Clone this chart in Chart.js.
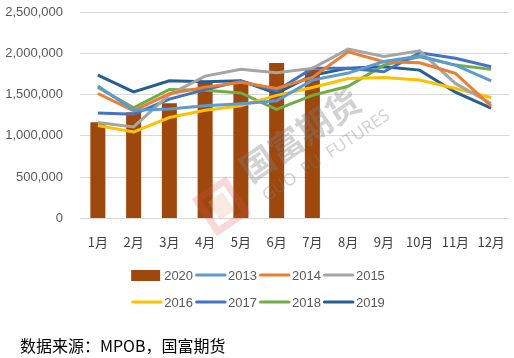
<!DOCTYPE html>
<html>
<head>
<meta charset="utf-8">
<script src="https://cdn.jsdelivr.net/npm/chart.js@4.4.1/dist/chart.umd.min.js"></script>
<style>
  body { margin: 0; background: #fff; }
  #wrap { position: relative; width: 514px; height: 358px; }
  #source {
    position: absolute; left: 20px; top: 333px;
    font-family: "Noto Sans CJK SC", "DejaVu Sans Mono", monospace;
    font-size: 16px; color: #000; white-space: nowrap;
  }
</style>
</head>
<body>
<div id="wrap">
  <canvas id="chart" width="514" height="358"></canvas>
  <div id="source">数据来源：MPOB，国富期货</div>
</div>
<script>
const months = ['1月', '2月', '3月', '4月', '5月', '6月', '7月', '8月', '9月', '10月', '11月', '12月'];
const yTicks = [0, 500000, 1000000, 1500000, 2000000, 2500000];

const output2020 = [1165000, 1286000, 1396000, 1650000, 1640000, 1881000, 1800000];
const output2013 = [1605000, 1311000, 1325000, 1365000, 1390000, 1424000, 1675000, 1760000, 1900000, 1966000, 1857000, 1666000];
const output2014 = [1513000, 1302000, 1510000, 1590000, 1650000, 1574000, 1707000, 2018000, 1897000, 1885000, 1756000, 1359000];
const output2015 = [1161000, 1108000, 1500000, 1723000, 1805000, 1764000, 1817000, 2051000, 1960000, 2030000, 1635000, 1392000];
const output2016 = [1125000, 1048000, 1222000, 1311000, 1365000, 1490000, 1586000, 1695000, 1707000, 1675000, 1574000, 1465000];
const output2017 = [1278000, 1262000, 1445000, 1560000, 1665000, 1545000, 1820000, 1820000, 1776000, 2006000, 1940000, 1836000];
const output2018 = [1586000, 1339000, 1562000, 1553000, 1520000, 1320000, 1490000, 1600000, 1857000, 1958000, 1857000, 1805000];
const output2019 = [1735000, 1533000, 1666000, 1654000, 1666000, 1513000, 1735000, 1820000, 1836000, 1796000, 1529000, 1335000];

const lineSeries = [
    {label: '2013', data: output2013, color: '#5B9BD5'},
    {label: '2014', data: output2014, color: '#ED7D31'},
    {label: '2015', data: output2015, color: '#A5A5A5'},
    {label: '2016', data: output2016, color: '#FFC000'},
    {label: '2017', data: output2017, color: '#4472C4'},
    {label: '2018', data: output2018, color: '#70AD47'},
    {label: '2019', data: output2019, color: '#255E91'}
];
const barColor = '#9E480E';
const textColor = '#595959';

const datasets = [{
    type: 'bar',
    label: '2020',
    data: output2020,
    backgroundColor: barColor,
    barPercentage: 0.42,
    categoryPercentage: 1,
    order: 2
}];
lineSeries.forEach(function (s) {
    datasets.push({
        type: 'line',
        label: s.label,
        data: s.data,
        borderColor: s.color,
        backgroundColor: s.color,
        borderWidth: 3,
        pointRadius: 0,
        tension: 0,
        order: 1
    });
});

// watermark drawn over the marks, faint
const watermark = {
    id: 'watermark',
    afterDatasetsDraw(chart) {
        const ctx = chart.ctx;
        ctx.save();
        ctx.translate(300, 135);
        ctx.rotate(-34 * Math.PI / 180);
        ctx.globalAlpha = 0.35;
        ctx.fillStyle = '#7f7f7f';
        ctx.textAlign = 'center';
        ctx.textBaseline = 'middle';
        ctx.font = 'bold 34px "Noto Sans CJK SC"';
        ctx.fillText('国富期货', 0, 0);
        ctx.font = '17px "Noto Sans"';
        ctx.fillText('GUO  FU  FUTURES', 10, 32);
        ctx.globalAlpha = 0.22;
        ctx.strokeStyle = '#e05050';
        ctx.lineWidth = 7;
        ctx.strokeRect(-122, -4, 34, 38);
        ctx.fillStyle = '#e8a080';
        ctx.fillRect(-114, 4, 18, 22);
        ctx.restore();
    }
};

// two-row legend like the original (4 items per row)
const rowLegend = {
    id: 'rowLegend',
    afterDraw(chart) {
        const ctx = chart.ctx;
        const items = chart.data.datasets;
        const rows = [items.slice(0, 4), items.slice(4)];
        const rowY = [275, 302];
        ctx.save();
        ctx.font = '13px "Liberation Sans", Arial';
        ctx.textBaseline = 'middle';
        ctx.textAlign = 'left';
        rows.forEach(function (row, r) {
            const widths = row.map(d => 31 + 2 + ctx.measureText(d.label).width + 2);
            const total = widths.reduce((a, b) => a + b, 0);
            let x = 259 - total / 2;
            const y = rowY[r];
            row.forEach(function (d, i) {
                if (d.type === 'bar') {
                    ctx.fillStyle = d.backgroundColor;
                    ctx.fillRect(x, y - 5, 29, 11);
                } else {
                    ctx.strokeStyle = d.borderColor;
                    ctx.lineWidth = 3;
                    ctx.lineCap = 'round';
                    ctx.beginPath();
                    ctx.moveTo(x + 1.5, y);
                    ctx.lineTo(x + 30, y);
                    ctx.stroke();
                }
                ctx.fillStyle = textColor;
                ctx.fillText(d.label, x + 33, y + 1);
                x += widths[i];
            });
        });
        ctx.restore();
    }
};

const chart = new Chart(document.getElementById('chart').getContext('2d'), {
    data: {labels: months, datasets: datasets},
    options: {
        responsive: false,
        animation: false,
        layout: {padding: {top: 12, right: 5, bottom: 100, left: 0}},
        plugins: {legend: {display: false}, tooltip: {enabled: false}},
        scales: {
            x: {
                grid: {display: false},
                border: {display: false},
                ticks: {color: '#404040', padding: 8, font: {size: 13, family: '"Noto Sans CJK SC"'}, maxRotation: 0}
            },
            y: {
                min: 0,
                max: 2500000,
                afterBuildTicks: function (scale) {
                    scale.ticks = yTicks.map(v => ({value: v}));
                },
                afterFit: function (scale) { scale.width = 80; },
                grid: {color: '#D9D9D9', lineWidth: 1, drawTicks: true, tickLength: 17, tickColor: 'rgba(0,0,0,0)'},
                border: {display: false},
                ticks: {
                    color: textColor,
                    padding: 0,
                    font: {size: 13, family: '"Liberation Sans", Arial'},
                    callback: v => v.toLocaleString('en-US')
                }
            }
        }
    },
    plugins: [watermark, rowLegend]
});
</script>
</body>
</html>
